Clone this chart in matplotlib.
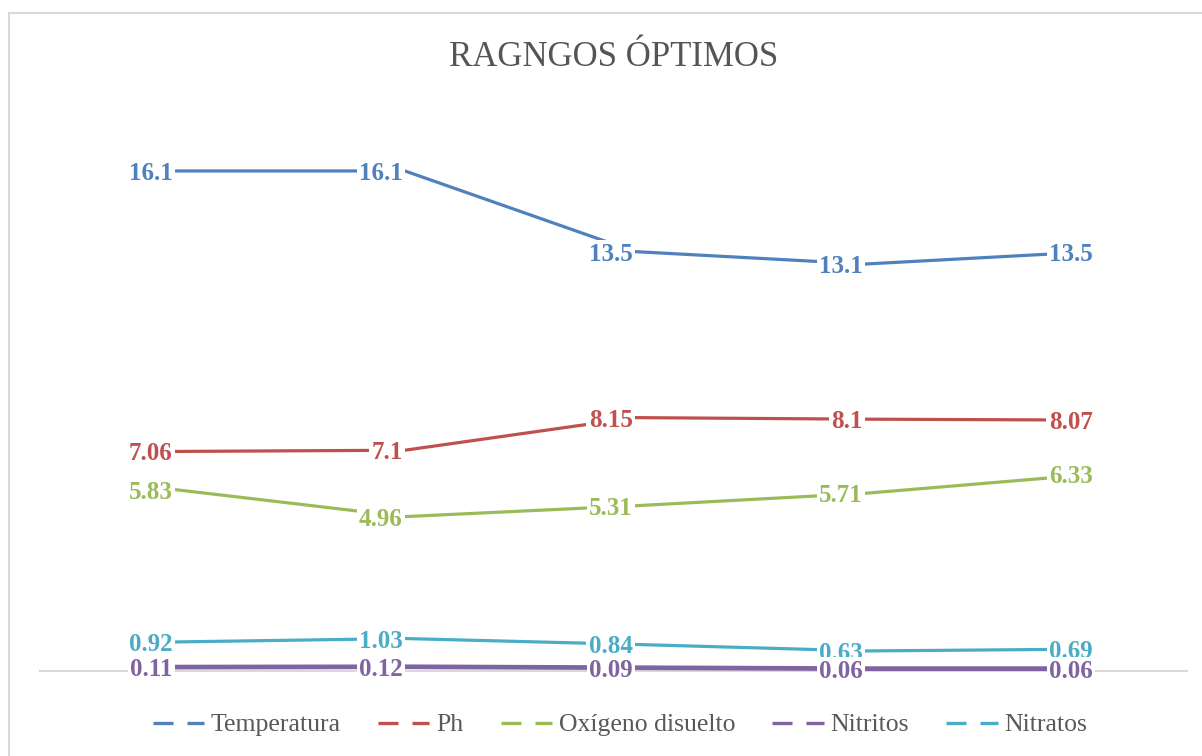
import matplotlib
matplotlib.use("Agg")
import matplotlib.pyplot as plt
from matplotlib.lines import Line2D
from matplotlib.patches import Rectangle

# Data
categories = ["1", "2", "3", "4", "5"]
temperatura = [16.1, 16.1, 13.5, 13.1, 13.5]
ph = [7.06, 7.1, 8.15, 8.1, 8.07]
oxigeno = [5.83, 4.96, 5.31, 5.71, 6.33]
nitritos = [0.11, 0.12, 0.09, 0.06, 0.06]
nitratos = [0.92, 1.03, 0.84, 0.63, 0.69]

series_names = ["Temperatura", "Ph", "Oxígeno disuelto", "Nitritos", "Nitratos"]
series_values = [temperatura, ph, oxigeno, nitritos, nitratos]
colors = ["#4F81BD", "#C0504D", "#9BBB59", "#8064A2", "#4BACC6"]
widths = [2.3, 2.3, 2.3, 3.4, 2.3]
label_z = [6, 6, 6, 8, 7]

W, H = 1202, 756
fig = plt.figure(figsize=(W / 100, H / 100), dpi=100)
ax = fig.add_axes([40 / W, 1 - 670.5 / H, (1187 - 40) / W, (670.5 - 112) / H])

x = list(range(len(categories)))
for name, vals, c, lw, z in zip(series_names, series_values, colors, widths, label_z):
    ax.plot(x, vals, color=c, lw=lw, solid_capstyle="butt", zorder=3)
    for xi, v in zip(x, vals):
        ax.annotate(f"{v:g}", (xi, v), xytext=(-1.6, 0), textcoords="offset points",
                    ha="right", va="center_baseline", color=c, fontsize=18,
                    fontweight="bold", family="Liberation Serif", zorder=z,
                    bbox=dict(boxstyle="square,pad=0.1", fc="white", ec="none"))

ax.set_xlim(-0.587, 4.4)
ax.set_ylim(0, 18)
for s in ["top", "right", "left"]:
    ax.spines[s].set_visible(False)
ax.spines["bottom"].set_color("#d9d9d9")
ax.spines["bottom"].set_linewidth(1.5)
ax.spines["bottom"].set_zorder(1)
ax.set_xticks([])
ax.set_yticks([])
ax.patch.set_alpha(0)

# Title
fig.text(614 / W, 1 - 57 / H, "RAGNGOS ÓPTIMOS", ha="center", va="center",
         fontsize=25, family="Liberation Serif", color="#555555")

# Legend
handles = [Line2D([0], [0], color=c, lw=2.4, linestyle=(0, (6.0, 4.2)))
           for c in colors]
leg = fig.legend(handles, series_names, loc="center",
                 bbox_to_anchor=(620 / W, 1 - 725 / H), ncol=5, frameon=False,
                 prop={"family": "Liberation Serif", "size": 18.5},
                 handlelength=2.0, handletextpad=0.27, columnspacing=1.44)
for t in leg.get_texts():
    t.set_color("#595959")

# Chart frame
fig.patches.append(Rectangle((9 / W, -0.1), 1.2, 1.1 - 13 / H,
                             transform=fig.transFigure, fill=False,
                             edgecolor="#d9d9d9", lw=1.5))

fig.savefig("out.png", dpi=100)
